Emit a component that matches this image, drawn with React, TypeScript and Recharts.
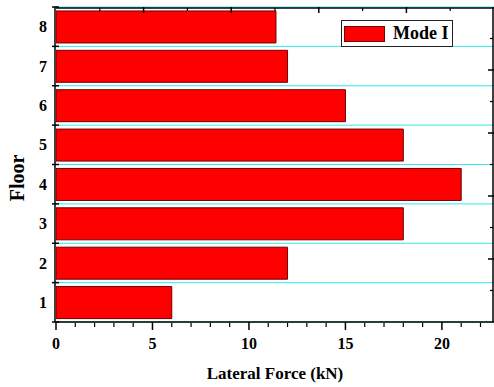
import React from 'react';
import { BarChart, Bar, XAxis, YAxis, CartesianGrid } from 'recharts';

const floors = ['1', '2', '3', '4', '5', '6', '7', '8'];
const modeI = [6, 12, 18, 21, 18, 15, 12, 11.4];

const xMajorTicks = [0, 5, 10, 15, 20];
const xMinorTicks = [1, 2, 3, 4, 6, 7, 8, 9, 11, 12, 13, 14, 16, 17, 18, 19, 21, 22];
const topMinorTicks = [2.27, 6.81, 11.35, 15.89, 20.43];
const topMajorTicks = [4.54, 9.08, 13.62, 18.16];
const rightMinorTicks = [1, 3, 5, 7, 9];
const rightMajorTicks = [2, 4, 6, 8];
const floorBounds = [0, 1, 2, 3, 4, 5, 6, 7, 8];

const data = floors.map((floor, i) => ({ floor, modeI: modeI[i] }));

const FONT = '"Liberation Serif", "Times New Roman", serif';
const tickStyle = { fontFamily: FONT, fontWeight: 'bold', fontSize: 16, fill: '#000' };
const thin = { stroke: '#000', strokeWidth: 1.2 };
const thick = { stroke: '#000', strokeWidth: 1.5 };

// tick marks only, no label
const Blank = () => null;

const FloorLabel = () => (
  <text x={24} y={178} transform="rotate(-90 24 178)" textAnchor="middle"
    style={{ fontFamily: FONT, fontWeight: 'bold', fontSize: 20 }} fill="#000">
    Floor
  </text>
);

const ForceLabel = ({ viewBox }: any) => (
  <text x={viewBox.x + viewBox.width / 2} y={379} textAnchor="middle"
    style={{ fontFamily: FONT, fontWeight: 'bold', fontSize: 17 }} fill="#000">
    Lateral Force (kN)
  </text>
);

const LegendBox = () => (
  <div style={{ position: 'absolute', left: 341, top: 20, width: 112, height: 27, border: '1px solid #222', background: '#fff', boxSizing: 'border-box' }}>
    <div style={{ position: 'absolute', left: 2, top: 5, width: 41, height: 16, background: '#ff0000', border: '1px solid #7a0000', boxSizing: 'border-box' }} />
    <span style={{ position: 'absolute', left: 51, top: 2, fontFamily: FONT, fontWeight: 'bold', fontSize: 18, lineHeight: '21px' }}>Mode I</span>
  </div>
);

export default function App() {
  return (
    <div style={{ position: 'absolute', left: 0, top: 0, width: 494, height: 387, background: '#fff' }}>
      <BarChart width={494} height={387} data={data} layout="vertical" barCategoryGap="10%"
        margin={{ top: 7, right: 0, bottom: 63, left: 54 }}>
        <CartesianGrid yAxisId="bound" vertical={false} stroke="#33e8ee" strokeWidth={1} />
        <XAxis xAxisId="main" type="number" domain={[0, 22.7]} allowDataOverflow ticks={xMajorTicks}
          interval={0} height={1} tick={tickStyle} tickSize={8} tickMargin={8}
          axisLine={thick} tickLine={thick} label={{ content: ForceLabel }} />
        <XAxis xAxisId="minor" type="number" domain={[0, 22.7]} allowDataOverflow ticks={xMinorTicks}
          interval={0} height={1} tick={<Blank />} tickSize={4} axisLine={false} tickLine={thin} />
        <XAxis xAxisId="topMinor" orientation="top" type="number" domain={[0, 22.7]} allowDataOverflow
          ticks={topMinorTicks} interval={0} height={1} mirror tick={<Blank />} tickSize={3}
          axisLine={thick} tickLine={thin} />
        <XAxis xAxisId="topMajor" orientation="top" type="number" domain={[0, 22.7]} allowDataOverflow
          ticks={topMajorTicks} interval={0} height={1} mirror tick={<Blank />} tickSize={6}
          axisLine={false} tickLine={thick} />
        <YAxis yAxisId="cat" type="category" dataKey="floor" reversed width={1} tick={tickStyle}
          tickSize={4} tickMargin={4} tickLine={false} axisLine={thick}
          label={{ content: FloorLabel }} />
        <YAxis yAxisId="bound" type="number" dataKey="modeI" domain={[0, 8]} allowDataOverflow ticks={floorBounds}
          interval={0} width={1} tick={<Blank />} tickSize={4} axisLine={false} tickLine={thick} />
        <YAxis yAxisId="boundIn" type="number" dataKey="modeI" domain={[0, 8]} allowDataOverflow ticks={floorBounds}
          interval={0} width={1} mirror tick={<Blank />} tickSize={3} axisLine={false} tickLine={thick} />
        <YAxis yAxisId="rMinor" orientation="right" type="number" dataKey="modeI" domain={[0, 10]} allowDataOverflow
          ticks={rightMinorTicks} interval={0} width={1} mirror tick={<Blank />} tickSize={3}
          axisLine={thick} tickLine={thin} />
        <YAxis yAxisId="rMajor" orientation="right" type="number" dataKey="modeI" domain={[0, 10]} allowDataOverflow
          ticks={rightMajorTicks} interval={0} width={1} mirror tick={<Blank />} tickSize={6}
          axisLine={false} tickLine={thick} />
        <Bar xAxisId="main" yAxisId="cat" dataKey="modeI" name="Mode I" fill="#ff0000"
          stroke="#6e0000" strokeWidth={1} isAnimationActive={false} />
      </BarChart>
      <LegendBox />
    </div>
  );
}
